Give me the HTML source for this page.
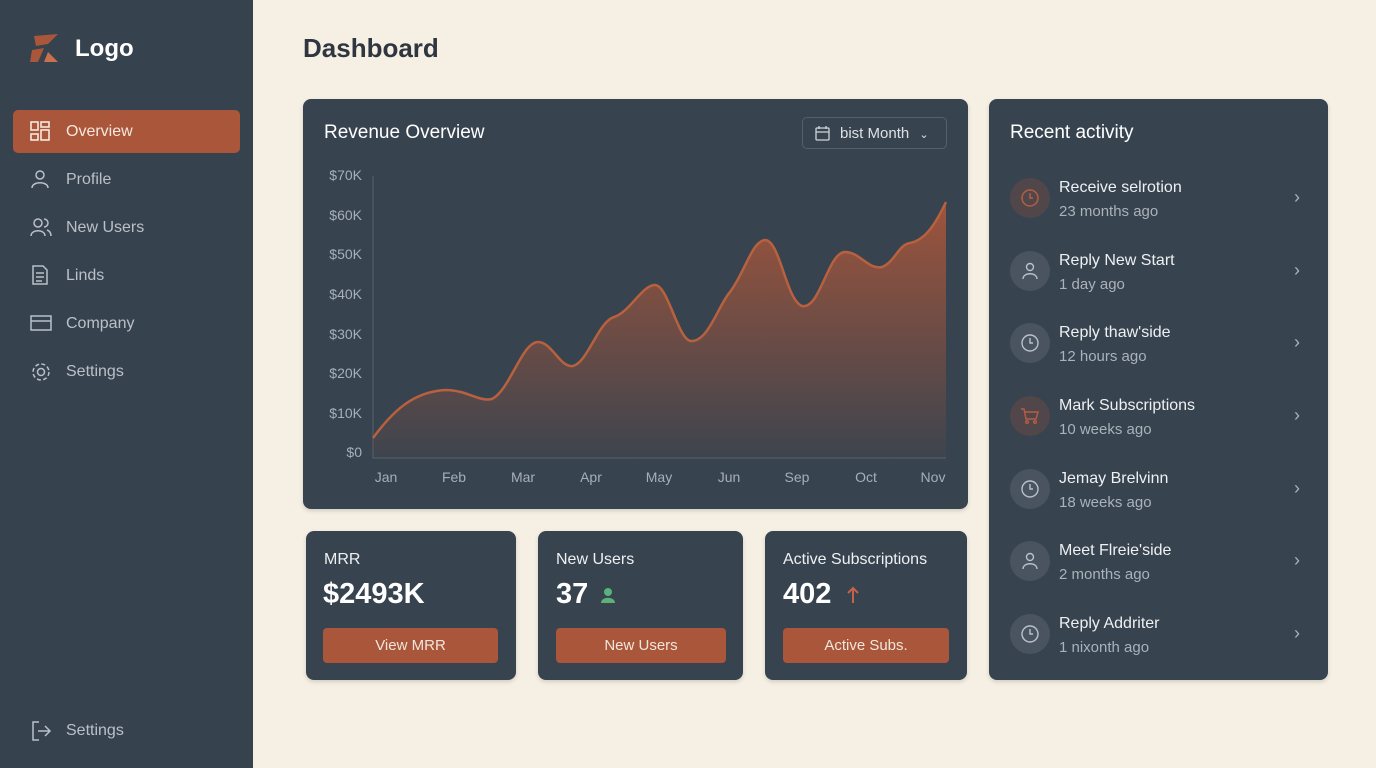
<!DOCTYPE html>
<html><head><meta charset="utf-8"><style>
*{margin:0;padding:0;box-sizing:border-box}
body{width:1376px;height:768px;overflow:hidden;background:#f6f0e4;font-family:"Liberation Sans",sans-serif;position:relative}
.a{position:absolute}
.side{left:0;top:0;width:253px;height:768px;background:#37424f}
.nav{left:13px;width:227px;height:43px;color:#b9c0c8;font-size:16px;line-height:43px;padding-left:53px}
.nav svg{position:absolute;left:17px;top:11px}
.card{background:#37434f;border-radius:8px;box-shadow:0 2px 4px rgba(0,0,0,.15)}
.yl{width:50px;text-align:right;color:#a7afb8;font-size:14px;left:312px}
.xl{color:#a7afb8;font-size:14px;top:469px;width:50px;text-align:center}
.btn{background:#a9563a;border-radius:4px;color:#f1e6dd;font-size:15px;text-align:center;height:35px;line-height:35px}
.t{color:#eef0f2;font-size:16px}
.big{color:#fff;font-size:29px;font-weight:bold}
.it{left:1010px;width:300px;height:60px}
.ic{position:absolute;left:0;top:0;width:40px;height:40px;border-radius:50%;background:#4a5460}
.it .n{position:absolute;left:49px;top:1px;color:#eef0f2;font-size:16px}
.it .s{position:absolute;left:49px;top:25px;color:#aab2ba;font-size:15px}
.it .c{position:absolute;left:284px;top:9px;color:#aab2ba;font-size:18px}
</style></head><body>
<div class="a side"></div>
<svg class="a" style="left:28px;top:32px" width="34" height="32"><path d="M6 4 L30 2 L20 12 L8 14 Z" fill="#a9563a"/><path d="M4 18 L16 16 L10 30 L2 30 Z" fill="#a9563a"/><path d="M20 20 L30 30 L16 30 Z" fill="#c9714f"/></svg>
<div class="a" style="left:75px;top:35px;color:#fff;font-size:24px;font-weight:bold">Logo</div>
<div class="a nav" style="top:110px;background:#a9563a;border-radius:5px;color:#f6e8de"><svg width="20" height="20" fill="none" stroke="#f6e8de" stroke-width="1.6"><rect x="1" y="1" width="7" height="8"/><rect x="11" y="1" width="8" height="5"/><rect x="1" y="13" width="7" height="6"/><rect x="11" y="9" width="8" height="10"/></svg>Overview</div>
<div class="a nav" style="top:158px"><svg width="20" height="20" fill="none" stroke="#b9c0c8" stroke-width="1.5"><circle cx="10" cy="6" r="4"/><path d="M2 19 C2 12 18 12 18 19"/></svg>Profile</div>
<div class="a nav" style="top:206px"><svg width="22" height="20" fill="none" stroke="#b9c0c8" stroke-width="1.5"><circle cx="8" cy="6" r="4"/><path d="M1 19 C1 12 15 12 15 19"/><path d="M14 2 A4 4 0 0 1 14 10 M17 13 C20 14 21 16 21 19"/></svg>New Users</div>
<div class="a nav" style="top:254px"><svg width="20" height="20" fill="none" stroke="#b9c0c8" stroke-width="1.5"><path d="M3 1 H13 L17 5 V19 H3 Z M6 8 H14 M6 12 H14 M6 16 H12"/></svg>Linds</div>
<div class="a nav" style="top:302px"><svg width="22" height="20" fill="none" stroke="#b9c0c8" stroke-width="1.5"><rect x="1" y="3" width="20" height="14"/><path d="M1 8 H21"/></svg>Company</div>
<div class="a nav" style="top:350px"><svg width="22" height="22" fill="none" stroke="#b9c0c8" stroke-width="1.5"><circle cx="11" cy="11" r="3.5"/><circle cx="11" cy="11" r="8" stroke-dasharray="4 2.3"/></svg>Settings</div>
<div class="a nav" style="top:709px"><svg width="22" height="22" fill="none" stroke="#b9c0c8" stroke-width="1.5"><path d="M9 2 H3 V20 H9 M8 11 H20 M15 6 L20 11 L15 16"/></svg>Settings</div>

<div class="a" style="left:303px;top:33px;font-size:26px;font-weight:bold;color:#2f3640">Dashboard</div>

<div class="a card" style="left:303px;top:99px;width:665px;height:410px"></div>
<div class="a" style="left:324px;top:122px;color:#fff;font-size:19px">Revenue Overview</div>
<div class="a" style="left:802px;top:117px;width:145px;height:32px;border:1px solid #55606c;border-radius:5px;color:#dde1e5;font-size:15px;line-height:31px;padding-left:37px">bist Month <span style="font-size:11px;margin-left:6px">&#8964;</span>
<svg style="position:absolute;left:12px;top:8px" width="16" height="16" fill="none" stroke="#cfd4d9" stroke-width="1.3"><rect x="1" y="2" width="13" height="12" rx="1"/><path d="M1 6 H14 M4 0 V3 M11 0 V3"/></svg></div>
<div class="a yl" style="top:167px">$70K</div><div class="a yl" style="top:207px">$60K</div><div class="a yl" style="top:246px">$50K</div><div class="a yl" style="top:286px">$40K</div><div class="a yl" style="top:326px">$30K</div><div class="a yl" style="top:365px">$20K</div><div class="a yl" style="top:405px">$10K</div><div class="a yl" style="top:444px">$0</div>
<div class="a xl" style="left:361px">Jan</div><div class="a xl" style="left:429px">Feb</div><div class="a xl" style="left:498px">Mar</div><div class="a xl" style="left:566px">Apr</div><div class="a xl" style="left:634px">May</div><div class="a xl" style="left:704px">Jun</div><div class="a xl" style="left:772px">Sep</div><div class="a xl" style="left:841px">Oct</div><div class="a xl" style="left:908px">Nov</div>
<svg class="a" style="left:0;top:0" width="1376" height="768">
<defs><linearGradient id="g" x1="0" y1="0" x2="0" y2="1"><stop offset="0" stop-color="#a9563a" stop-opacity=".9"/><stop offset="1" stop-color="#a9563a" stop-opacity=".06"/></linearGradient></defs>
<path d="M373 176 V458 H946" fill="none" stroke="#56616c" stroke-width="1"/>
<path d="M373 438 C395 408 415 392 445 390 C468 390 478 402 492 399 C510 390 522 342 538 342 C552 342 560 368 573 366 C588 362 598 322 614 317 C630 312 642 285 655 285 C668 285 678 340 691 341 C708 342 718 306 730 292 C745 272 752 241 765 240 C780 240 786 300 802 306 C820 310 828 252 845 252 C860 252 868 270 882 267 C895 262 898 245 910 243 C925 240 935 225 946 202 V458 H373 Z" fill="url(#g)"/>
<path d="M373 438 C395 408 415 392 445 390 C468 390 478 402 492 399 C510 390 522 342 538 342 C552 342 560 368 573 366 C588 362 598 322 614 317 C630 312 642 285 655 285 C668 285 678 340 691 341 C708 342 718 306 730 292 C745 272 752 241 765 240 C780 240 786 300 802 306 C820 310 828 252 845 252 C860 252 868 270 882 267 C895 262 898 245 910 243 C925 240 935 225 946 202" fill="none" stroke="#b8613f" stroke-width="2.5"/>
</svg>

<div class="a card" style="left:306px;top:531px;width:210px;height:149px"></div>
<div class="a t" style="left:324px;top:551px">MRR</div>
<div class="a big" style="left:323px;top:578px">$2493K</div>
<div class="a btn" style="left:323px;top:628px;width:175px">View MRR</div>
<div class="a card" style="left:538px;top:531px;width:205px;height:149px"></div>
<div class="a t" style="left:556px;top:551px">New Users</div>
<div class="a big" style="left:556px;top:578px">37</div>
<svg class="a" style="left:598px;top:586px" width="20" height="20"><circle cx="10" cy="6" r="4" fill="#5cb07a"/><path d="M3 17 C3 10 17 10 17 17 Z" fill="#5cb07a"/></svg>
<div class="a btn" style="left:556px;top:628px;width:170px">New Users</div>
<div class="a card" style="left:765px;top:531px;width:202px;height:149px"></div>
<div class="a t" style="left:783px;top:551px">Active Subscriptions</div>
<div class="a big" style="left:783px;top:578px">402</div>
<svg class="a" style="left:846px;top:586px" width="14" height="18" fill="none" stroke="#c9614a" stroke-width="2"><path d="M7 17 V2 M2 7 L7 2 L12 7"/></svg>
<div class="a btn" style="left:783px;top:628px;width:166px">Active Subs.</div>

<div class="a card" style="left:989px;top:99px;width:339px;height:581px"></div>
<div class="a" style="left:1010px;top:122px;color:#fff;font-size:19px">Recent activity</div>
<div class="a it" style="top:178px"><div class="ic" style="background:#51464a"></div><svg class="a" style="left:10px;top:10px" width="20" height="20" fill="none" stroke="#b55d45" stroke-width="1.5"><circle cx="10" cy="10" r="8"/><path d="M10 5 V10 H13"/></svg><div class="n">Receive selrotion</div><div class="s">23 months ago</div><div class="c">&#8250;</div></div>
<div class="a it" style="top:251px"><div class="ic"></div><svg class="a" style="left:10px;top:10px" width="20" height="20" fill="none" stroke="#b9c0c8" stroke-width="1.4"><circle cx="10" cy="6" r="3.5"/><path d="M3 18 C3 11 17 11 17 18"/></svg><div class="n">Reply New Start</div><div class="s">1 day ago</div><div class="c">&#8250;</div></div>
<div class="a it" style="top:323px"><div class="ic"></div><svg class="a" style="left:10px;top:10px" width="20" height="20" fill="none" stroke="#b9c0c8" stroke-width="1.4"><circle cx="10" cy="10" r="8"/><path d="M10 5 V10 H13"/></svg><div class="n">Reply thaw'side</div><div class="s">12 hours ago</div><div class="c">&#8250;</div></div>
<div class="a it" style="top:396px"><div class="ic" style="background:#51464a"></div><svg class="a" style="left:10px;top:10px" width="20" height="20" fill="none" stroke="#b55d45" stroke-width="1.4"><path d="M1 3 H4 L6 13 H16 L18 6 H5"/><circle cx="7" cy="16" r="1.3"/><circle cx="15" cy="16" r="1.3"/></svg><div class="n">Mark Subscriptions</div><div class="s">10 weeks ago</div><div class="c">&#8250;</div></div>
<div class="a it" style="top:469px"><div class="ic"></div><svg class="a" style="left:10px;top:10px" width="20" height="20" fill="none" stroke="#b9c0c8" stroke-width="1.4"><circle cx="10" cy="10" r="8"/><path d="M10 5 V10 H13"/></svg><div class="n">Jemay Brelvinn</div><div class="s">18 weeks ago</div><div class="c">&#8250;</div></div>
<div class="a it" style="top:541px"><div class="ic"></div><svg class="a" style="left:10px;top:10px" width="20" height="20" fill="none" stroke="#b9c0c8" stroke-width="1.4"><circle cx="10" cy="6" r="3.5"/><path d="M3 18 C3 11 17 11 17 18"/></svg><div class="n">Meet Flreie'side</div><div class="s">2 months ago</div><div class="c">&#8250;</div></div>
<div class="a it" style="top:614px"><div class="ic"></div><svg class="a" style="left:10px;top:10px" width="20" height="20" fill="none" stroke="#b9c0c8" stroke-width="1.4"><circle cx="10" cy="10" r="8"/><path d="M10 5 V10 H13"/></svg><div class="n">Reply Addriter</div><div class="s">1 nixonth ago</div><div class="c">&#8250;</div></div>
</body></html>
